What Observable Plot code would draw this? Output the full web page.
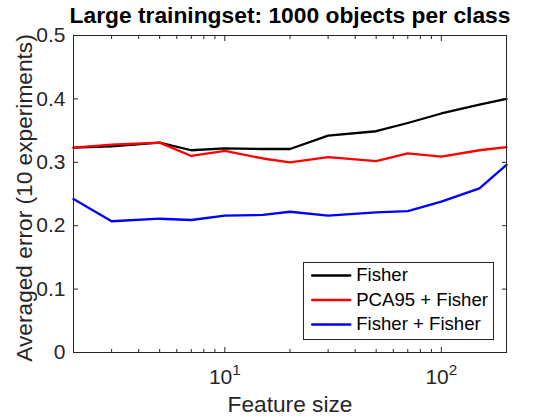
<!DOCTYPE html>
<html><head><meta charset="utf-8">
<script src="https://cdn.jsdelivr.net/npm/d3@7"></script>
<script src="https://cdn.jsdelivr.net/npm/@observablehq/plot@0.6"></script>
<style>body{margin:0;background:#fff}</style>
</head><body><div id="chart"></div>
<script>
const featureSizes = [2, 3, 5, 7, 10, 15, 20, 30, 50, 70, 100, 150, 200];
const fisher       = [0.323, 0.325, 0.331, 0.319, 0.322, 0.321, 0.321, 0.342, 0.349, 0.362, 0.377, 0.391, 0.400];
const pcaFisher    = [0.323, 0.328, 0.331, 0.310, 0.318, 0.306, 0.300, 0.308, 0.302, 0.314, 0.309, 0.319, 0.324];
const fisherFisher = [0.242, 0.207, 0.211, 0.209, 0.216, 0.217, 0.222, 0.216, 0.221, 0.223, 0.238, 0.259, 0.296];
const seriesNames  = ["Fisher", "PCA95 + Fisher", "Fisher + Fisher"];
const seriesColors = ["#000000", "#ff0000", "#0000ff"];
const yTicks = [0, 0.1, 0.2, 0.3, 0.4, 0.5];
const xMajorTicks = [10, 100];
const xMinorTicks = [2, 3, 4, 5, 6, 7, 8, 9, 20, 30, 40, 50, 60, 70, 80, 90, 200];
const titleText = "Large trainingset: 1000 objects per class";
const xLabel = "Feature size";
const yLabel = "Averaged error (10 experiments)";

const seriesValues = [fisher, pcaFisher, fisherFisher];
const rows = [];
seriesValues.forEach((vals, i) => vals.forEach((v, j) => rows.push({x: featureSizes[j], y: v, series: seriesNames[i]})));

const AX = "#262626";
const lineShape = {draw(context, l) { context.moveTo(0, 0); context.lineTo(0, -l); }};

const legendMarks = [];
seriesNames.forEach((name, i) => {
  legendMarks.push(Plot.vector([name], {frameAnchor: "top-left", dx: 238.7, dy: 240 + i * 24.5, length: 38, rotate: 90, anchor: "start", shape: lineShape, stroke: seriesColors[i], strokeWidth: 2.4}));
  legendMarks.push(Plot.text([name], {frameAnchor: "top-left", dx: 282.7, dy: 240 + i * 24.5, textAnchor: "start", lineAnchor: "middle", fontSize: 18.6, fill: "#000"}));
});

const plot = Plot.plot({
  width: 560, height: 420,
  marginLeft: 73, marginRight: 54, marginTop: 35, marginBottom: 68,
  style: {fontFamily: "'Liberation Sans', Arial, sans-serif", background: "white"},
  x: {type: "log", domain: [2, 200]},
  y: {domain: [0, 0.5]},
  color: {domain: seriesNames, range: seriesColors},
  marks: [
    Plot.line(rows, {x: "x", y: "y", z: "series", stroke: "series", strokeWidth: 2.3}),
    Plot.axisY(yTicks, {anchor: "left", tickSize: -5, tickPadding: 13, fontSize: 21, color: AX, label: null, tickFormat: d => String(d)}),
    Plot.axisY(yTicks, {anchor: "right", tickSize: -5, tickFormat: () => "", label: null, color: AX}),
    Plot.axisX(xMajorTicks, {anchor: "bottom", tickSize: -5, tickPadding: 22, fontSize: 21, color: AX, label: null, tickFormat: d => "10^" + Math.round(Math.log10(d))}),
    Plot.axisX(xMinorTicks, {anchor: "bottom", tickSize: -3, tickFormat: () => "", label: null, color: AX}),
    Plot.axisX(xMajorTicks, {anchor: "top", tickSize: -5, tickFormat: () => "", label: null, color: AX}),
    Plot.axisX(xMinorTicks, {anchor: "top", tickSize: -3, tickFormat: () => "", label: null, color: AX}),
    Plot.frame({stroke: AX}),
    Plot.frame({insetLeft: 230, insetRight: 13, insetTop: 227, insetBottom: 13, fill: "white", stroke: AX}),
    ...legendMarks,
    Plot.text([titleText], {frameAnchor: "top", dy: -19.6, textAnchor: "middle", lineAnchor: "middle", fontSize: 22.8, fontWeight: "bold", fill: "#000"}),
    Plot.text([xLabel], {frameAnchor: "bottom", dy: 51.8, textAnchor: "middle", lineAnchor: "middle", fontSize: 22.7, fill: AX}),
    Plot.text([yLabel], {frameAnchor: "left", dx: -49, dy: 4, rotate: -90, textAnchor: "middle", lineAnchor: "middle", fontSize: 22.7, fill: AX})
  ]
});

d3.select(plot).selectAll('g[aria-label="x-axis tick label"] text').each(function() {
  const m = (this.textContent || "").match(/^10\^(\d+)$/);
  if (!m) return;
  const sel = d3.select(this);
  sel.text("10");
  sel.append("tspan").attr("dy", "-9").attr("font-size", "15.3").text(m[1]);
});

document.getElementById("chart").appendChild(plot);
</script>
</body></html>
